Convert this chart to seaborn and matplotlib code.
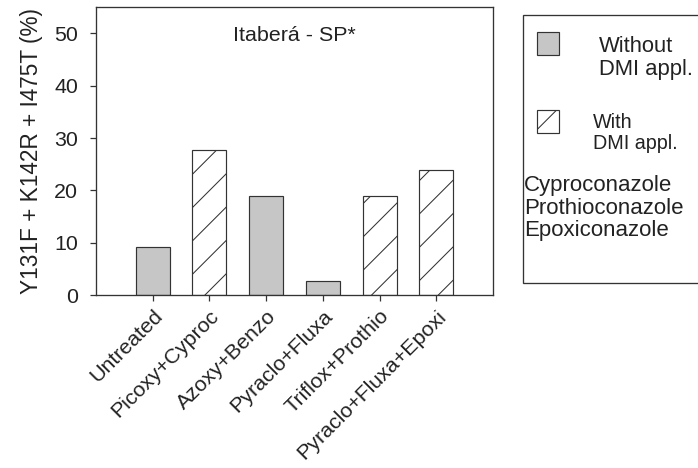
import matplotlib
matplotlib.use("Agg")
import matplotlib.pyplot as plt
import seaborn as sns
import pandas as pd
from matplotlib.patches import Rectangle

treatments = ["Untreated", "Picoxy+Cyproc", "Azoxy+Benzo", "Pyraclo+Fluxa",
              "Triflox+Prothio", "Pyraclo+Fluxa+Epoxi"]
values = [9.3, 27.7, 18.9, 2.8, 18.9, 23.9]
dmi = ["Without", "With", "Without", "Without", "With", "With"]
yticks = [0, 10, 20, 30, 40, 50]
title = "Itaberá - SP*"
ylabel = "Y131F + K142R + I475T (%)"
legend_labels = ["Without\nDMI appl.", "With\nDMI appl."]
dmi_names = ["Cyproconazole", "Prothioconazole", "Epoxiconazole"]

sns.set_theme(style="white")
plt.rcParams["font.family"] = ["Liberation Sans", "DejaVu Sans"]
plt.rcParams["hatch.linewidth"] = 0.75
plt.rcParams["hatch.color"] = "#222222"

DPI = 100
fig = plt.figure(figsize=(698 / DPI, 468 / DPI), dpi=DPI)
ax = fig.add_axes([96 / 698, 1 - 295.3 / 468, (493 - 96) / 698, (295.3 - 7) / 468])

df = pd.DataFrame({"treatment": treatments, "value": values, "dmi": dmi})
gray = "#c6c6c6"
edge = "#333333"
sns.barplot(data=df, x="treatment", y="value", hue="dmi", dodge=False,
            palette={"Without": gray, "With": "white"}, order=treatments,
            hue_order=["Without", "With"], width=0.6, edgecolor=edge,
            linewidth=0.85, saturation=1, legend=False, ax=ax)

for p in ax.patches:
    xc = p.get_x() + p.get_width() / 2
    i = int(round(xc))
    if 0 <= i < len(dmi) and dmi[i] == "With":
        p.set_hatch("/")

fs = 15.4
ax.set_xlim(-1, len(treatments))
ax.set_ylim(0, 55)
ax.set_yticks(yticks)
ax.set_yticklabels([str(v) for v in yticks], fontsize=fs, color="#222222")
ax.set_xticks(range(len(treatments)))
ax.set_xticklabels(treatments, rotation=45, ha="right", rotation_mode="anchor",
                   fontsize=fs, color="#222222")
ax.set_xlabel("")
ax.set_ylabel(ylabel, fontsize=16.3, color="#222222", labelpad=8)
ax.tick_params(axis="y", which="major", direction="out", length=4.5,
               width=0.9, color="#333333", pad=8.5, left=True)
ax.tick_params(axis="x", which="major", direction="out", length=4,
               width=0.9, color="#333333", pad=4, bottom=True)
for s in ax.spines.values():
    s.set_visible(True)
    s.set_linewidth(0.95)
    s.set_color("#333333")
ax.text(0.5, 0.90, title, transform=ax.transAxes, ha="center", va="center",
        fontsize=fs, color="#222222")

def fx(px):
    return px / 698
def fy(py):
    return 1 - py / 468

fig.patches.append(Rectangle((fx(523), fy(283)), fx(698 - 523 + 5), (283 - 15) / 468,
                             transform=fig.transFigure, facecolor="white",
                             edgecolor=edge, linewidth=0.95))
fig.patches.append(Rectangle((fx(537), fy(55)), fx(22), 23 / 468,
                             transform=fig.transFigure, facecolor=gray,
                             edgecolor=edge, linewidth=0.85))
fig.patches.append(Rectangle((fx(537), fy(133)), fx(22), 23 / 468,
                             transform=fig.transFigure, facecolor="white",
                             edgecolor=edge, linewidth=0.85, hatch="/"))
fig.text(fx(599), fy(58), legend_labels[0], fontsize=15.8, color="#222222",
         ha="left", va="center", linespacing=1.15)
fig.text(fx(593), fy(133), legend_labels[1], fontsize=14.2, color="#222222",
         ha="left", va="center", linespacing=1.08)
fig.text(fx(524), fy(208), "\n".join(dmi_names), fontsize=16.0, color="#222222",
         ha="left", va="center", linespacing=1.1)

fig.savefig("out.png", dpi=DPI)
